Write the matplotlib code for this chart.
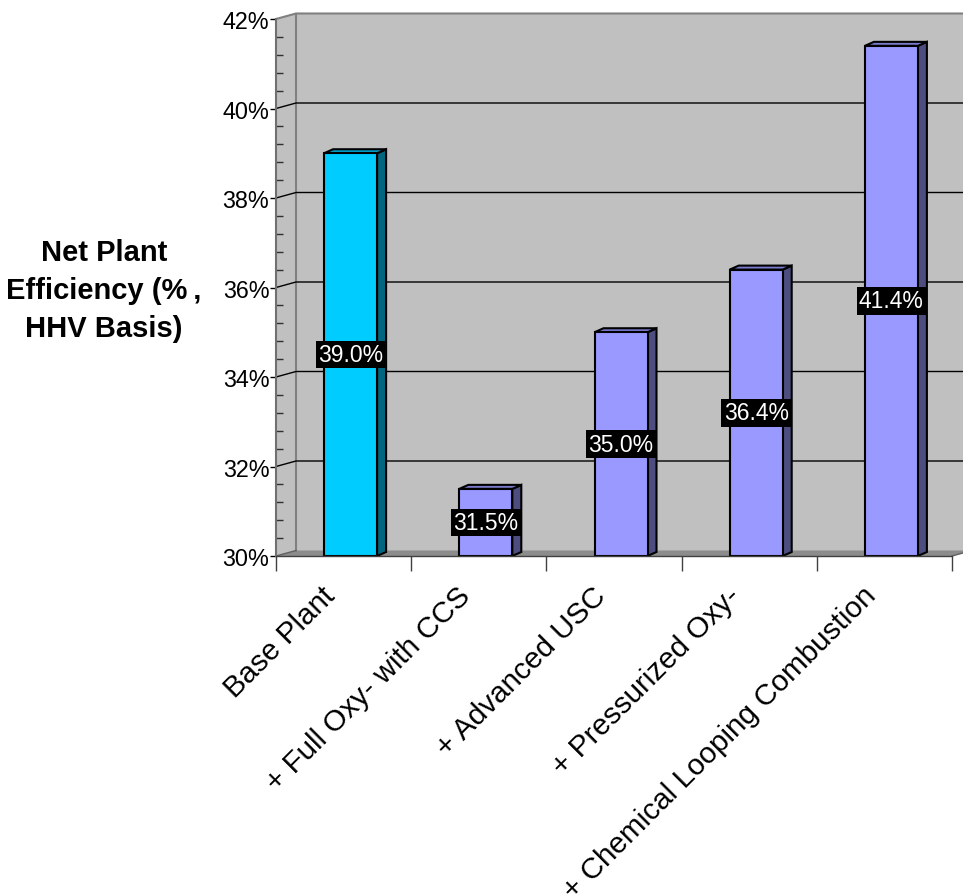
import numpy as np
import matplotlib
matplotlib.use('Agg')
import matplotlib.pyplot as plt
from matplotlib.patches import Polygon
from matplotlib.ticker import MultipleLocator, FixedLocator
from matplotlib.transforms import ScaledTranslation

plt.rcParams['font.family'] = ['Liberation Sans', 'DejaVu Sans']

categories = ['Base Plant', '+ Full Oxy- with CCS', '+ Advanced USC',
              '+ Pressurized Oxy-', '+ Chemical Looping Combustion']
values = [39.0, 31.5, 35.0, 36.4, 41.4]
y_ticks = [30, 32, 34, 36, 38, 40, 42]

front_cols = ['#00CCFF', '#9999FF', '#9999FF', '#9999FF', '#9999FF']
top_cols = ['#00A3CC', '#7A7ACC', '#7A7ACC', '#7A7ACC', '#7A7ACC']
side_cols = ['#006680', '#4D4D80', '#4D4D80', '#4D4D80', '#4D4D80']

W, H = 963, 895
fig = plt.figure(figsize=(W / 100, H / 100), dpi=100)
ax = fig.add_axes([276 / W, 1 - 557 / H, 676 / W, 537 / H])
ax.set_xlim(-0.5, 4.5)
ax.set_ylim(30, 42)
ax.patch.set_visible(False)

# pixel -> data scale
px_x = 676 / 5
px_y = 537 / 12
DX, DY = 20 / px_x, 5.5 / px_y          # wall depth
OFF, BW = 7 / px_x, 53 / px_x           # bar offset and width
BDX, BDY = 9 / px_x, 4 / px_y           # bar depth

x0, x1 = -0.5, 4.5
far = x1 + DX + 0.3

# walls and floor
ax.add_patch(Polygon([(x0 + DX, 30 + DY), (far, 30 + DY), (far, 42 + DY), (x0 + DX, 42 + DY)],
                     closed=True, fc='#C0C0C0', ec='none', clip_on=False, zorder=0))
ax.add_patch(Polygon([(x0, 30), (x0, 42), (x0 + DX, 42 + DY), (x0 + DX, 30 + DY)],
                     closed=True, fc='#C0C0C0', ec='none', clip_on=False, zorder=0))
ax.add_patch(Polygon([(x1, 30), (x1 + DX, 30 + DY), (far, 30 + DY), (far, 30)],
                     closed=True, fc='white', ec='none', clip_on=False, zorder=0.6))
ax.add_patch(Polygon([(x0, 30), (x1, 30), (x1 + DX, 30 + DY), (x0 + DX, 30 + DY)],
                     closed=True, fc='#8C8C8C', ec='none', clip_on=False, zorder=0.7))

# wall outlines
ax.plot([x0, x0 + DX, far], [42, 42 + DY, 42 + DY], color='#808080', lw=1.5,
        clip_on=False, zorder=1)
ax.plot([x0 + DX, x0 + DX], [30 + DY, 42 + DY], color='#808080', lw=1.5,
        clip_on=False, zorder=1)

# gridlines
for t in y_ticks[1:-1]:
    ax.plot([x0, x0 + DX, far], [t, t + DY, t + DY], color='black', lw=1,
            clip_on=False, zorder=1)
ax.plot([x0, x0 + DX], [30, 30 + DY], color='#606060', lw=1, clip_on=False, zorder=1)
ax.plot([x1, x1 + DX], [30, 30 + DY], color='#606060', lw=1, clip_on=False, zorder=1)

# bars
for i, v in enumerate(values):
    a = i + OFF - BW / 2
    b = i + OFF + BW / 2
    ax.add_patch(Polygon([(b, 30), (b + BDX, 30 + BDY), (b + BDX, v + BDY), (b, v)],
                         closed=True, fc=side_cols[i], ec='black', lw=1.5, zorder=2))
    ax.add_patch(Polygon([(a, v), (b, v), (b + BDX, v + BDY), (a + BDX, v + BDY)],
                         closed=True, fc=top_cols[i], ec='black', lw=1.5, zorder=2))
    ax.add_patch(Polygon([(a, 30), (b, 30), (b, v), (a, v)],
                         closed=True, fc=front_cols[i], ec='black', lw=1.5, zorder=3))
    ax.text(i + OFF, (30 + v) / 2, f'{v:.1f}%', ha='center', va='center',
            color='white', fontsize=16.5, zorder=4,
            bbox=dict(boxstyle='square,pad=0.1', fc='black', ec='none'))

# axes
for s in ['top', 'right']:
    ax.spines[s].set_visible(False)
ax.spines['left'].set_color('#707070')
ax.spines['left'].set_linewidth(1.5)
ax.spines['bottom'].set_color('#404040')
ax.spines['bottom'].set_linewidth(1)
ax.spines['left'].set_zorder(5)
ax.spines['bottom'].set_zorder(5)

ax.yaxis.set_major_locator(FixedLocator(y_ticks))
ax.yaxis.set_minor_locator(MultipleLocator(0.4))
ax.set_yticklabels([f'{t}%' for t in y_ticks], fontsize=16.8)
ax.tick_params(axis='y', which='major', direction='out', length=4.5, width=1,
               color='black', pad=0.3)
ax.tick_params(axis='y', which='minor', direction='in', length=5, width=1, color='#303030')

ax.set_xticks(range(len(categories)))
ax.set_xticklabels(categories, rotation=45, ha='right', fontsize=21.3)
ax.xaxis.set_minor_locator(FixedLocator(np.arange(-0.5, 5, 1)))
ax.tick_params(axis='x', which='major', length=0, pad=18)
ax.tick_params(axis='x', which='minor', direction='out', length=11, width=1, color='#404040')
shift = ScaledTranslation(-3 / 100, 0, fig.dpi_scale_trans)
for lab in ax.get_xticklabels():
    lab.set_transform(lab.get_transform() + shift)

fig.text(104 / W, 1 - 291 / H, 'Net Plant\nEfficiency (%\u2009,\nHHV Basis)', ha='center',
         va='center', fontsize=21, fontweight='bold', linespacing=1.45)

fig.savefig('out.png', dpi=100)
